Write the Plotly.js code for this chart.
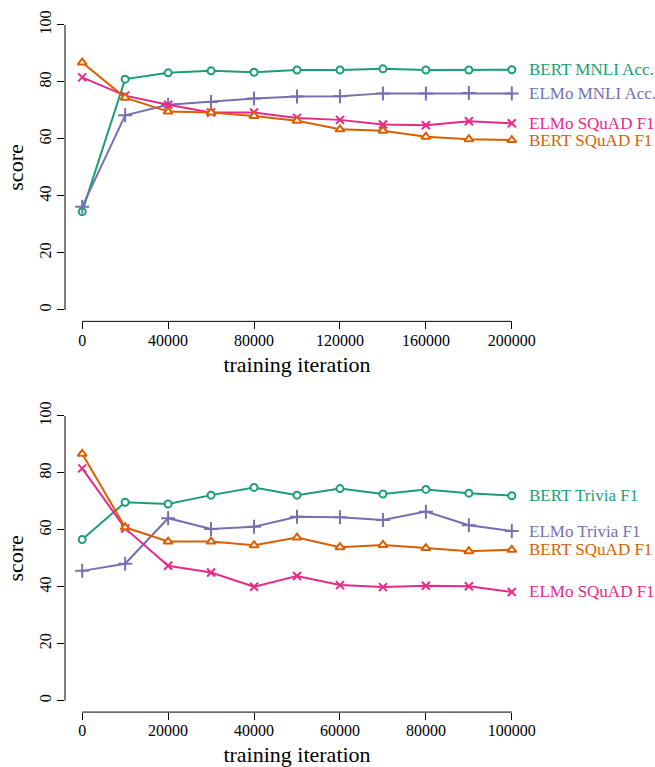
<!DOCTYPE html>
<html>
<head>
<meta charset="utf-8">
<script src="https://cdn.plot.ly/plotly-3.0.1.min.js"></script>
<style>html,body{margin:0;padding:0;background:#fff;}#chart{width:655px;height:767px;}</style>
</head>
<body>
<div id="chart"></div>
<script>
// ---- data ----
const topIter = [0, 20000, 40000, 60000, 80000, 100000, 120000, 140000, 160000, 180000, 200000];
const bertMnliAcc = [34.5, 81.0, 83.2, 83.9, 83.4, 84.2, 84.2, 84.6, 84.2, 84.2, 84.3];
const elmoMnliAcc = [36.2, 68.3, 72.0, 73.0, 74.2, 74.9, 75.0, 76.0, 76.0, 76.1, 76.0];
const elmoSquadTop = [81.6, 75.2, 72.0, 69.3, 69.3, 67.4, 66.7, 65.1, 64.8, 66.2, 65.5];
const bertSquadTop = [86.8, 74.5, 69.6, 69.3, 68.1, 66.4, 63.4, 62.9, 60.8, 59.9, 59.6];

const botIter = [0, 10000, 20000, 30000, 40000, 50000, 60000, 70000, 80000, 90000, 100000];
const bertTriviaF1 = [56.6, 69.7, 69.1, 72.2, 74.9, 72.2, 74.5, 72.6, 74.2, 72.9, 72.0];
const elmoTriviaF1 = [45.6, 48.1, 64.1, 60.3, 61.1, 64.6, 64.4, 63.5, 66.4, 61.6, 59.6];
const bertSquadBot = [86.7, 60.9, 55.9, 55.9, 54.6, 57.3, 53.9, 54.7, 53.6, 52.5, 53.0];
const elmoSquadBot = [81.6, 60.5, 47.4, 45.0, 40.0, 43.8, 40.6, 39.9, 40.4, 40.2, 38.2];

const topTicks = [0, 40000, 80000, 120000, 160000, 200000];
const botTicks = [0, 20000, 40000, 60000, 80000, 100000];
const yTicks = [0, 20, 40, 60, 80, 100];

const topNames = ["BERT MNLI Acc.", "ELMo MNLI Acc.", "ELMo SQuAD F1", "BERT SQuAD F1"];
const botNames = ["BERT Trivia F1", "ELMo Trivia F1", "BERT SQuAD F1", "ELMo SQuAD F1"];

// ---- styling ----
const C = {green: "#1b9e77", purple: "#7570b3", pink: "#e7298a", orange: "#d95f02"};
const FONT = "Liberation Serif, Times New Roman, serif";

function series(x, y, color, symbol, xa, ya, size) {
  const filled = symbol.indexOf("thin") < 0;
  return {
    x: x, y: y, xaxis: xa, yaxis: ya, type: "scatter", mode: "lines+markers",
    line: {color: color, width: 2},
    marker: {symbol: symbol, size: size, color: filled ? "#ffffff" : color,
             line: {color: color, width: 2}},
    showlegend: false, hoverinfo: "skip"
  };
}

const traces = [
  series(topIter, bertMnliAcc, C.green, "circle", "x", "y", 7),
  series(topIter, elmoMnliAcc, C.purple, "cross-thin", "x", "y", 10),
  series(topIter, elmoSquadTop, C.pink, "x-thin", "x", "y", 8),
  series(topIter, bertSquadTop, C.orange, "triangle-up", "x", "y", 8),
  series(botIter, bertTriviaF1, C.green, "circle", "x2", "y2", 7),
  series(botIter, elmoTriviaF1, C.purple, "cross-thin", "x2", "y2", 10),
  series(botIter, elmoSquadBot, C.pink, "x-thin", "x2", "y2", 8),
  series(botIter, bertSquadBot, C.orange, "triangle-up", "x2", "y2", 8)
];

function lastLabel(text, xs, ys, color, xa, ya) {
  return {text: text, x: xs[xs.length - 1], y: ys[ys.length - 1], xref: xa, yref: ya,
          xanchor: "left", yanchor: "middle", xshift: 15, showarrow: false,
          font: {family: FONT, size: 17, color: color}};
}

const annotations = [
  lastLabel(topNames[0], topIter, bertMnliAcc, C.green, "x", "y"),
  lastLabel(topNames[1], topIter, elmoMnliAcc, C.purple, "x", "y"),
  lastLabel(topNames[2], topIter, elmoSquadTop, C.pink, "x", "y"),
  lastLabel(topNames[3], topIter, bertSquadTop, C.orange, "x", "y"),
  lastLabel(botNames[0], botIter, bertTriviaF1, C.green, "x2", "y2"),
  lastLabel(botNames[1], botIter, elmoTriviaF1, C.purple, "x2", "y2"),
  lastLabel(botNames[2], botIter, bertSquadBot, C.orange, "x2", "y2"),
  lastLabel(botNames[3], botIter, elmoSquadBot, C.pink, "x2", "y2")
];

// R-style axis lines spanning only the tick range
function axisShapes(xa, ya, xt) {
  return [
    {type: "line", xref: xa, yref: ya + " domain", x0: xt[0], x1: xt[xt.length - 1], y0: 0, y1: 0,
     line: {color: "#000", width: 1}},
    {type: "line", xref: xa + " domain", yref: ya, x0: 0, x1: 0, y0: yTicks[0], y1: yTicks[yTicks.length - 1],
     line: {color: "#000", width: 1}}
  ];
}

function xAxis(ticks, range, anchor) {
  return {
    range: range, tickvals: ticks, ticktext: ticks.map(String), anchor: anchor,
    showgrid: false, zeroline: false, showline: false,
    ticks: "outside", ticklen: 7, tickwidth: 1, tickcolor: "#000",
    tickfont: {family: FONT, size: 16, color: "#000"},
    ticklabelstandoff: -3,
    title: {text: "training iteration", font: {family: FONT, size: 22, color: "#000"}, standoff: 9}
  };
}
function yAxis(domain, anchor) {
  return {
    domain: domain, range: [-4, 104], tickvals: yTicks, ticktext: yTicks.map(String), anchor: anchor,
    showgrid: false, zeroline: false, showline: false,
    ticks: "outside", ticklen: 7, tickwidth: 1, tickcolor: "#000", tickangle: -90,
    tickfont: {family: FONT, size: 16, color: "#000"},
    title: {text: "score", font: {family: FONT, size: 22, color: "#000"}, standoff: 6}
  };
}

const layout = {
  width: 655, height: 767,
  margin: {l: 65, r: 126, t: 0, b: 0},
  paper_bgcolor: "#fff", plot_bgcolor: "#fff",
  xaxis: xAxis(topTicks, [-8000, 208000], "y"),
  yaxis: yAxis([0.5810, 0.9823], "x"),
  xaxis2: xAxis(botTicks, [-4000, 104000], "y2"),
  yaxis2: yAxis([0.0716, 0.4725], "x2"),
  shapes: axisShapes("x", "y", topTicks).concat(axisShapes("x2", "y2", botTicks)),
  annotations: annotations
};

Plotly.newPlot("chart", traces, layout, {staticPlot: true, displayModeBar: false});
</script>
</body>
</html>
